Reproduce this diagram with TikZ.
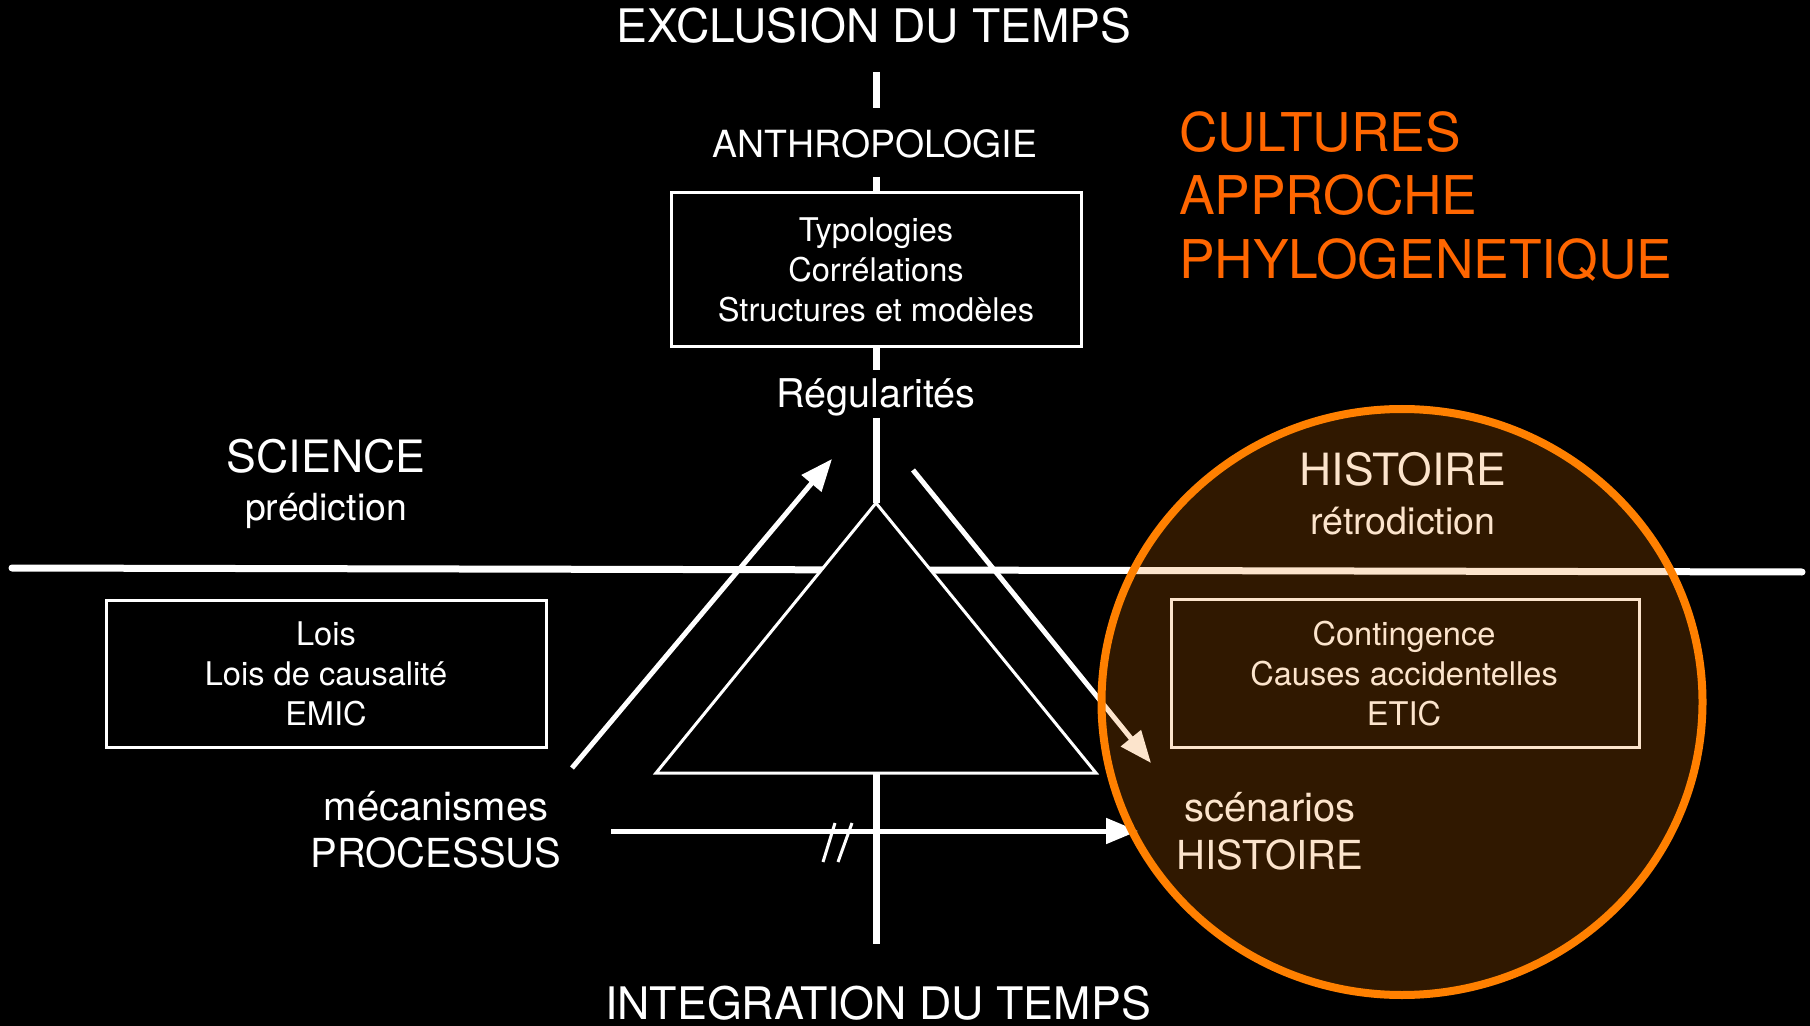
\documentclass[tikz,border=0pt]{standalone}
\usepackage{fontspec}
\setmainfont{TeX Gyre Heros}
\usetikzlibrary{arrows.meta,shapes.geometric}
\definecolor{orangeline}{RGB}{255,128,0}
\definecolor{orangetext}{RGB}{255,102,0}
\definecolor{overlaycol}{RGB}{240,120,0}
\begin{document}
\begin{tikzpicture}[x=0.5pt,y=-0.5pt,
  txt/.style={inner sep=0pt, outer sep=0pt, anchor=base, text=white},
  fs/.style={font=\fontsize{#1pt}{#1pt}\selectfont},
  boxstyle/.style={draw=white, line width=1.5pt, inner sep=0pt, outer sep=0pt},
  vline/.style={draw=white, line width=3.5pt},
  hline/.style={draw=white, line width=3.5pt, line cap=round},
  arr/.style={draw=white, line width=2.5pt, -{Triangle[length=16pt,width=12.5pt]}},
  hashmark/.style={draw=white, line width=1.5pt}
]
\fill[black] (0,0) rectangle (1810,1026);
\useasboundingbox (0,0) rectangle (1810,1026);

% main horizontal line
\coordinate (hl) at (12,568);
\coordinate (hr) at (1802,572);
\draw[hline] (hl) -- (hr);

% triangle
\coordinate (apex) at (876,503);
\coordinate (bl) at (656,773);
\coordinate (br) at (1096,773);
\draw[white, line width=1.5pt, fill=black, line join=miter] (apex) -- (bl) -- (br) -- cycle;

% top texts and box
\node[txt,fs=23.1] (excl) at (874,43) {EXCLUSION DU TEMPS};
\node[txt,fs=18.7] (anthro) at (875,158) {ANTHROPOLOGIE};
\node[boxstyle, minimum width=205pt, minimum height=77pt] (tbox) at (876,270) {};
\node[txt,fs=16.3] (t1) at (876,242) {Typologies};
\node[txt,fs=16.3] (t2) at (876,282) {Corrélations};
\node[txt,fs=16.3] (t3) at (876,322) {Structures et modèles};
\node[txt,fs=19.8] (reg) at (876,408) {Régularités};

% vertical axis segments
\coordinate (v1a) at (876,72);
\coordinate (v1b) at (876,108);
\draw[vline] (v1a) -- (v1b);
\coordinate (v2a) at (876,177);
\draw[vline] (v2a) -- (tbox.north);
\coordinate (v3b) at (876,370);
\draw[vline] (tbox.south) -- (v3b);
\coordinate (v4a) at (876,418);
\draw[vline] (v4a) -- (apex);
\coordinate (v5a) at (876,773);
\coordinate (v5b) at (876,944);
\draw[vline] (v5a) -- (v5b);

% left side
\node[txt,fs=22.3] (sci) at (326,473) {SCIENCE};
\node[txt,fs=18.7] (pred) at (326,520) {prédiction};
\node[boxstyle, minimum width=220pt, minimum height=73.5pt] (lbox) at (326,673.5) {};
\node[txt,fs=16.3] (l1) at (326,645) {Lois};
\node[txt,fs=16.3] (l2) at (326,685) {Lois de causalité};
\node[txt,fs=16.3] (l3) at (326,725) {EMIC};
\node[txt,fs=20] (meca) at (436,820) {mécanismes};
\node[txt,fs=20] (proc) at (436,867) {PROCESSUS};

% right side
\node[txt,fs=22.2] (hist) at (1403,486) {HISTOIRE};
\node[txt,fs=18.8] (retro) at (1403,534) {rétrodiction};
\node[boxstyle, minimum width=234pt, minimum height=74pt] (rbox) at (1405,673) {};
\node[txt,fs=16.3] (r1) at (1404,645) {Contingence};
\node[txt,fs=16.3] (r2) at (1404,685) {Causes accidentelles};
\node[txt,fs=16.3] (r3) at (1404,725) {ETIC};
\node[txt,fs=20] (scen) at (1270,821) {scénarios};
\node[txt,fs=20] (hist2) at (1270,869) {HISTOIRE};

% arrows
\coordinate (la1) at (572,768);
\coordinate (la2) at (832,459);
\draw[arr] (la1) -- (la2);
\coordinate (ra1) at (913,470);
\coordinate (ra2) at (1151,763);
\draw[arr] (ra1) -- (ra2);
\coordinate (ba1) at (611,831);
\coordinate (ba2) at (1138,831);
\draw[arr] (ba1) -- (ba2);

% hash marks
\coordinate (h1a) at (823,862);
\coordinate (h1b) at (835,823);
\coordinate (h2a) at (838,862);
\coordinate (h2b) at (852,823);
\draw[hashmark] (h1a) -- (h1b);
\draw[hashmark] (h2a) -- (h2b);

% bottom text
\node[txt,fs=22.4,text depth=0pt] (integ) at (878,1019) {INTEGRATION DU TEMPS};

% orange overlay circle
\node[ellipse, minimum width=300.5pt, minimum height=293pt, inner sep=0pt,
      fill=overlaycol, fill opacity=0.2, draw=orangeline, draw opacity=1,
      line width=4pt] (circ) at (1402,702) {};

% orange title
\node[txt, anchor=base west, text=orangetext, fs=26.7] (cult) at (1179,152) {CULTURES};
\node[txt, anchor=base west, text=orangetext, fs=26.7] (appr) at (1179,215) {APPROCHE};
\node[txt, anchor=base west, text=orangetext, fs=26.7] (phylo) at (1179,279) {PHYLOGENETIQUE};
\end{tikzpicture}
\end{document}
